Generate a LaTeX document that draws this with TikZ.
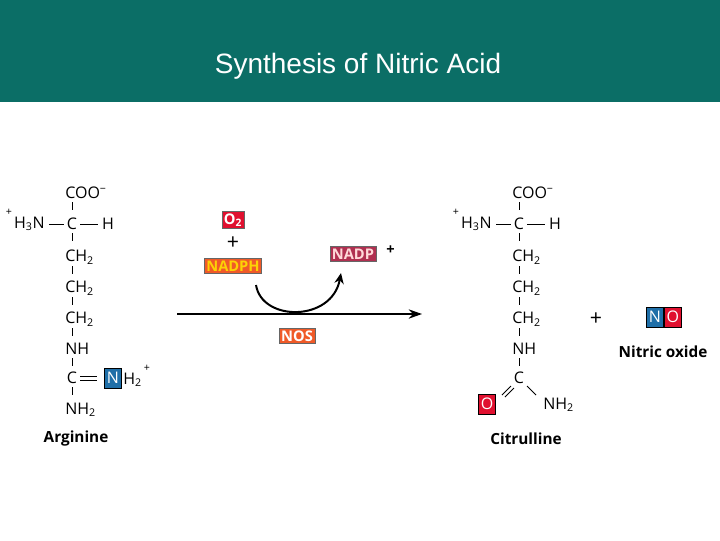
\documentclass[tikz,border=0pt]{standalone}
\usepackage{fontspec}
\setmainfont{Open Sans}
\newfontfamily\titlefont{Liberation Sans}
\usetikzlibrary{arrows.meta}
\definecolor{teal}{HTML}{0B6E66}
\definecolor{orng}{HTML}{F05A28}
\definecolor{rd}{HTML}{E0102F}
\definecolor{blu}{HTML}{1F6FA8}
\definecolor{pnk}{HTML}{B03050}
\tikzset{x=0.75pt,y=-0.75pt,
 chem/.style={inner sep=0pt,font=\fontsize{12}{12}\selectfont},
 sup/.style={inner sep=0pt,font=\fontsize{8}{8}\selectfont},
 lbl/.style={inner sep=0pt,font=\fontsize{11.5}{12}\selectfont\bfseries},
 bond/.style={line width=0.6pt},
 tag/.style={draw=black!60,line width=0.4pt,text=white,font=\fontsize{11}{11}\selectfont\bfseries,inner sep=1.5pt},
 atom/.style={draw=black,line width=0.4pt,text=white,font=\fontsize{12}{12}\selectfont,inner sep=1.2pt,minimum width=13pt,minimum height=15pt}}
\begin{document}
\begin{tikzpicture}
\useasboundingbox (0,0) rectangle (720,540);
\fill[white] (0,0) rectangle (720,540);
\fill[teal] (0,0) rectangle (720,102);
\node[text=white,font=\titlefont\fontsize{21}{21}\selectfont] (title) at (358,66) {Synthesis of Nitric Acid};
% Arginine
\node[chem,anchor=west] (acoo) at (65,193) {COO\textsuperscript{−}};
\node[chem] (ac) at (72,224) {C};
\node[chem,anchor=east] (ah3n) at (45,224) {H\textsubscript{3}N};
\node[sup] (ahp) at (9,212) {+};
\node[chem] (ah) at (108,224) {H};
\node[chem,anchor=west] (ach1) at (65,257) {CH\textsubscript{2}};
\node[chem,anchor=west] (ach2) at (65,288) {CH\textsubscript{2}};
\node[chem,anchor=west] (ach3) at (65,319) {CH\textsubscript{2}};
\node[chem,anchor=west] (anh) at (65,349) {NH};
\node[chem] (ac2) at (72,378) {C};
\node[atom,fill=blu] (an) at (113,378) {N};
\node[chem,anchor=west] (ah2) at (123,380) {H\textsubscript{2}};
\node[sup] (ah2p) at (147,368) {+};
\node[chem,anchor=west] (anh2) at (65,410) {NH\textsubscript{2}};
\node[lbl] (arg) at (76,439) {Arginine};
\foreach \y in {202,233,266,297,328,358,387}{\draw[bond] (72,\y) -- (72,\y+8);}
\draw[bond] (49,224) -- (64,224); \draw[bond] (80,224) -- (98,224);
\draw[bond] (80,376) -- (97,376); \draw[bond] (80,380) -- (97,380);
% Reaction
\draw[line width=1.3pt,-{Stealth[length=10pt,width=7pt]}] (177,314) -- (422,314);
\node[tag,fill=orng] (nos) at (297,336) {NOS};
\node[tag,fill=rd] (o2) at (233,220) {O\textsubscript{2}};
\node[chem,font=\fontsize{16}{16}\selectfont] (p1) at (233,243) {+};
\node[tag,fill=orng,text=yellow!70!orange] (nadph) at (233,266) {NADPH};
\node[tag,fill=pnk,text=pink!60] (nadp) at (353,254) {NADP};
\node[chem,anchor=west,font=\bfseries\fontsize{11}{11}\selectfont] (nplus) at (386,250) {+};
\coordinate (cs) at (256,285);
\coordinate (ce) at (341,273);
\draw[line width=1.5pt,-{Stealth[length=8pt,width=7pt]}] (cs) .. controls (262,322) and (332,322) .. (ce);
% Citrulline
\node[chem,anchor=west] (ccoo) at (512,193) {COO\textsuperscript{−}};
\node[chem] (cc) at (519,224) {C};
\node[chem,anchor=east] (ch3n) at (492,224) {H\textsubscript{3}N};
\node[sup] (chp) at (456,212) {+};
\node[chem] (chh) at (555,224) {H};
\node[chem,anchor=west] (cch1) at (512,257) {CH\textsubscript{2}};
\node[chem,anchor=west] (cch2) at (512,288) {CH\textsubscript{2}};
\node[chem,anchor=west] (cch3) at (512,319) {CH\textsubscript{2}};
\node[chem,anchor=west] (cnh) at (512,349) {NH};
\node[chem] (cc2) at (519,378) {C};
\node[atom,fill=rd] (co) at (487,404) {O};
\node[chem,anchor=west] (cnh2) at (543,405) {NH\textsubscript{2}};
\node[lbl] (cit) at (526,439) {Citrulline};
\foreach \y in {202,233,266,297,328,358}{\draw[bond] (519,\y) -- (519,\y+8);}
\draw[bond] (496,224) -- (511,224); \draw[bond] (527,224) -- (545,224);
\draw[bond] (511,386) -- (502,395); \draw[bond] (514,388) -- (505,397);
\draw[bond] (527,386) -- (536,395);
\node[chem,font=\fontsize{16}{16}\selectfont] (p2) at (596,319) {+};
\node[atom,fill=blu] (non) at (655,317) {N};
\node[atom,fill=rd,anchor=west] (noo) at (non.east) {O};
\node[lbl] (no) at (663,352) {Nitric oxide};
\end{tikzpicture}
\end{document}
